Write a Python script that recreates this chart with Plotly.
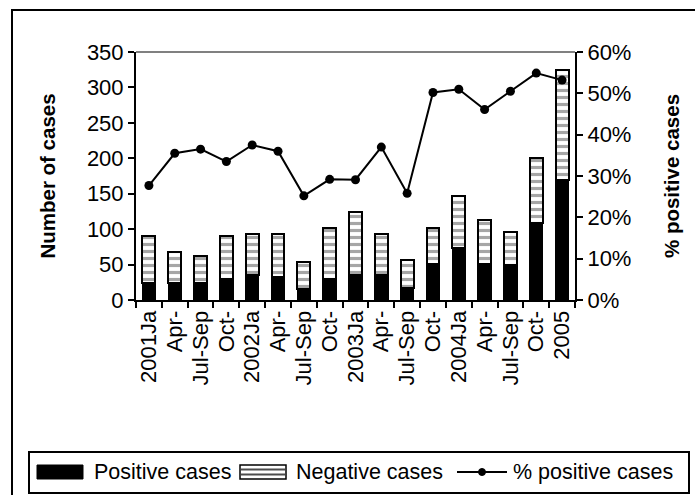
import plotly.graph_objects as go

labels = ["2001Ja", "Apr-", "Jul-Sep", "Oct-", "2002Ja", "Apr-", "Jul-Sep", "Oct-",
          "2003Ja", "Apr-", "Jul-Sep", "Oct-", "2004Ja", "Apr-", "Jul-Sep", "Oct-", "2005"]
totals = [90, 68, 62, 90, 93, 93, 53, 101, 124, 93, 56, 101, 147, 113, 96, 200, 325]
positive = [24, 24, 24, 29, 35, 32, 15, 29, 35, 35, 17, 51, 74, 51, 49, 108, 170]
pct_positive = [27.7, 35.5, 36.5, 33.5, 37.5, 36.0, 25.2, 29.2, 29.1, 37.0, 25.8,
                50.2, 51.0, 46.1, 50.5, 54.9, 53.2]
series_names = ["Positive cases", "Negative cases", "% positive cases"]

negative = [t - p for t, p in zip(totals, positive)]
xpos = list(range(len(labels)))
pct_frac = [v / 100 for v in pct_positive]

FONT = "Liberation Sans, Arial, sans-serif"

fig = go.Figure()
fig.add_trace(go.Bar(
    x=xpos, y=positive, name=series_names[0],
    marker=dict(color="black", line=dict(color="black", width=1.5)),
))
fig.add_trace(go.Bar(
    x=xpos, y=negative, name=series_names[1],
    marker=dict(color="white", line=dict(color="black", width=2),
                pattern=dict(shape="-", fgcolor="#4d4d4d", bgcolor="white",
                             size=7, solidity=0.45)),
))
fig.add_trace(go.Scatter(
    x=xpos, y=pct_frac, name=series_names[2], yaxis="y2",
    mode="lines+markers",
    line=dict(color="black", width=2),
    marker=dict(color="black", size=9),
))

W, H = 695, 495
L, T = 136, 52
pw, ph = 439, 248
R = W - L - pw
B = H - T - ph

def px_x(px):
    return (px - L) / pw

def px_y(py):
    return (T + ph - py) / ph

ly = 472
shapes = [
    dict(type="line", xref="paper", yref="paper", x0=0, x1=1, y0=1, y1=1,
         line=dict(color="#808080", width=2)),
    # outer chart frame (only top and left edges are visible)
    dict(type="line", xref="paper", yref="paper",
         x0=px_x(11), x1=px_x(720), y0=px_y(10), y1=px_y(10),
         line=dict(color="black", width=2)),
    dict(type="line", xref="paper", yref="paper",
         x0=px_x(12), x1=px_x(12), y0=px_y(9), y1=px_y(520),
         line=dict(color="black", width=2)),
    # legend frame
    dict(type="rect", xref="paper", yref="paper",
         x0=px_x(29), x1=px_x(689), y0=px_y(452), y1=px_y(493),
         line=dict(color="black", width=2), fillcolor="white"),
    # positive swatch
    dict(type="rect", xref="paper", yref="paper",
         x0=px_x(37), x1=px_x(83), y0=px_y(465), y1=px_y(479),
         line=dict(color="black", width=1), fillcolor="black"),
    # negative swatch
    dict(type="rect", xref="paper", yref="paper",
         x0=px_x(240), x1=px_x(286), y0=px_y(465), y1=px_y(479),
         line=dict(color="black", width=1.5), fillcolor="white"),
    dict(type="line", xref="paper", yref="paper",
         x0=px_x(241), x1=px_x(285), y0=px_y(469.5), y1=px_y(469.5),
         line=dict(color="#4d4d4d", width=2)),
    dict(type="line", xref="paper", yref="paper",
         x0=px_x(241), x1=px_x(285), y0=px_y(474.5), y1=px_y(474.5),
         line=dict(color="#4d4d4d", width=2)),
    # line swatch
    dict(type="line", xref="paper", yref="paper",
         x0=px_x(457), x1=px_x(507), y0=px_y(ly), y1=px_y(ly),
         line=dict(color="black", width=2)),
    dict(type="circle", xref="paper", yref="paper",
         x0=px_x(478.5), x1=px_x(485.5), y0=px_y(468.5), y1=px_y(475.5),
         line=dict(color="black", width=1), fillcolor="black"),
]
annotations = [
    dict(text=series_names[0], xref="paper", yref="paper", x=px_x(92), y=px_y(ly),
         xanchor="left", yanchor="middle", showarrow=False, font=dict(size=21.5)),
    dict(text=series_names[1], xref="paper", yref="paper", x=px_x(294), y=px_y(ly),
         xanchor="left", yanchor="middle", showarrow=False, font=dict(size=21.5)),
    dict(text=series_names[2], xref="paper", yref="paper", x=px_x(511), y=px_y(ly),
         xanchor="left", yanchor="middle", showarrow=False, font=dict(size=21.5)),
]

fig.update_layout(
    width=W, height=H,
    margin=dict(l=L, r=R, t=T, b=B, autoexpand=False),
    paper_bgcolor="white", plot_bgcolor="white",
    barmode="stack", bargap=0.5,
    font=dict(family=FONT, size=22, color="black"),
    showlegend=False,
    xaxis=dict(
        range=[-0.5, len(labels) - 0.5],
        tickmode="array", tickvals=xpos, ticktext=labels,
        tickangle=-90, ticks="", showgrid=False, zeroline=False,
        showline=True, linecolor="black", linewidth=2,
        tickfont=dict(size=22),
        minor=dict(tickvals=[i - 0.5 for i in range(len(labels) + 1)],
                   ticks="outside", ticklen=6, tickwidth=2, tickcolor="black",
                   showgrid=False),
    ),
    yaxis=dict(
        range=[0, 350], dtick=50, tick0=0,
        ticks="outside", ticklen=6, tickwidth=2, tickcolor="black",
        showgrid=False, zeroline=False,
        showline=True, linecolor="black", linewidth=2,
        tickfont=dict(size=22),
        title=dict(text="<b>Number of cases</b>", font=dict(size=20.5), standoff=26),
    ),
    yaxis2=dict(
        overlaying="y", side="right",
        range=[0, 0.6], dtick=0.1, tick0=0, tickformat=".0%",
        ticks="outside", ticklen=6, tickwidth=2, tickcolor="black",
        showgrid=False, zeroline=False,
        showline=True, linecolor="black", linewidth=2,
        tickfont=dict(size=22),
        title=dict(text="<b>% positive cases</b>", font=dict(size=20.5), standoff=34),
    ),
    shapes=shapes,
    annotations=annotations,
)

fig.write_html(
    "out.html",
    config={"displayModeBar": False},
    post_script="document.body.style.margin='0';document.body.style.overflow='hidden';",
)
